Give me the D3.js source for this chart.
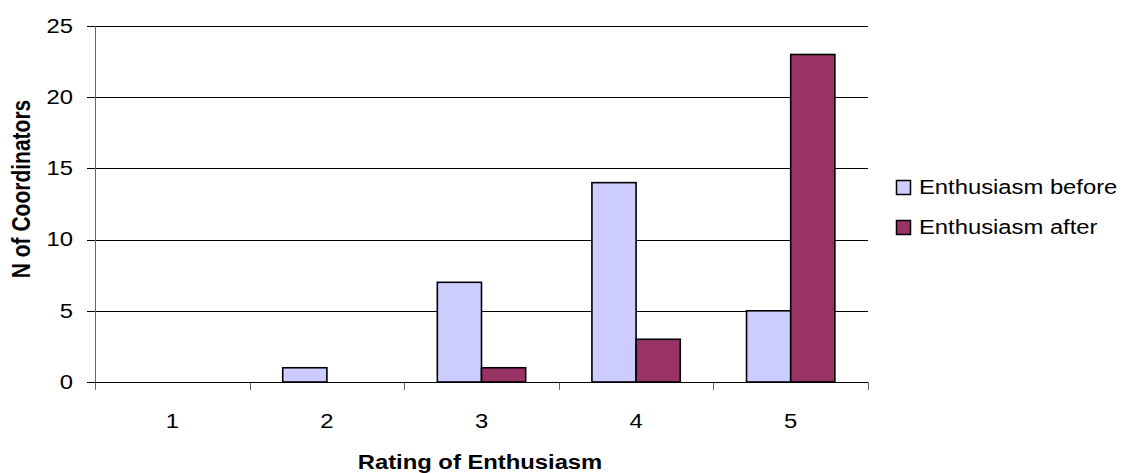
<!DOCTYPE html>
<html>
<head>
<meta charset="utf-8">
<script src="https://cdn.jsdelivr.net/npm/d3@7"></script>
<style>
  html, body { margin: 0; padding: 0; background: #fff; }
  svg { display: block; }
  text { font-family: "Liberation Sans", Arial, sans-serif; fill: #000; }
</style>
</head>
<body>
<svg id="chart" width="1125" height="473"></svg>
<script>
// Ratings on the x axis
const ratings = ["1", "2", "3", "4", "5"];
// Series names
const seriesNames = ["Enthusiasm before", "Enthusiasm after"];
// Number of coordinators per rating
const before = [0, 1, 7, 14, 5];
const after = [0, 0, 1, 3, 23];
// Y axis ticks
const yTicks = [0, 5, 10, 15, 20, 25];

const colors = ["#CCCCFF", "#993366"];
const seriesValues = [before, after];
const stretch = 1.19; // wide text look

const svg = d3.select("#chart");
const margin = { left: 95, right: 1125 - 868, top: 26, bottom: 473 - 382 };
const W = 1125, H = 473;

const x0 = d3.scaleBand().domain(ratings).range([margin.left, W - margin.right]).padding(0);
const x1 = d3.scaleBand().domain(seriesNames).range([0, x0.bandwidth()])
  .paddingInner(0).paddingOuter(0.75);
const y = d3.scaleLinear().domain([0, 25]).range([H - margin.bottom, margin.top]);

// Horizontal gridlines with short outward ticks
const grid = svg.append("g");
grid.selectAll("line").data(yTicks).join("line")
  .attr("x1", margin.left - 8).attr("x2", W - margin.right)
  .attr("y1", d => Math.round(y(d)) + 0.5).attr("y2", d => Math.round(y(d)) + 0.5)
  .attr("stroke", "#000").attr("stroke-width", 1);

// Y tick labels
svg.append("g").selectAll("text").data(yTicks).join("text")
  .attr("transform", d => `translate(73,${y(d)}) scale(${stretch},1)`)
  .attr("text-anchor", "end").attr("dominant-baseline", "central")
  .attr("font-size", 20).text(d => d);

// Y axis line
svg.append("line")
  .attr("x1", margin.left + 0.5).attr("x2", margin.left + 0.5)
  .attr("y1", y(25)).attr("y2", y(0))
  .attr("stroke", "#666").attr("stroke-width", 1);

// X axis category ticks
const xTickPos = ratings.map(r => x0(r)).concat([x0(ratings[ratings.length - 1]) + x0.bandwidth()]);
svg.append("g").selectAll("line").data(xTickPos).join("line")
  .attr("x1", d => Math.round(d) + 0.5).attr("x2", d => Math.round(d) + 0.5)
  .attr("y1", y(0)).attr("y2", y(0) + 8)
  .attr("stroke", "#666").attr("stroke-width", 1);

// X tick labels
svg.append("g").selectAll("text").data(ratings).join("text")
  .attr("transform", d => `translate(${x0(d) + x0.bandwidth() / 2},428) scale(${stretch},1)`)
  .attr("text-anchor", "middle").attr("font-size", 20).text(d => d);

// Bars
const groups = svg.append("g").selectAll("g").data(ratings).join("g")
  .attr("transform", d => `translate(${x0(d)},0)`);
groups.selectAll("rect")
  .data((d, i) => seriesNames.map((s, k) => ({ s, k, v: seriesValues[k][i] })))
  .join("rect")
  .filter(d => d.v > 0)
  .attr("x", d => x1(d.s))
  .attr("width", x1.bandwidth())
  .attr("y", d => y(d.v))
  .attr("height", d => y(0) - y(d.v))
  .attr("fill", d => colors[d.k])
  .attr("stroke", "#000").attr("stroke-width", 1.6);

// X axis baseline drawn over bar bottoms
svg.append("line")
  .attr("x1", margin.left).attr("x2", W - margin.right)
  .attr("y1", Math.round(y(0)) + 0.5).attr("y2", Math.round(y(0)) + 0.5)
  .attr("stroke", "#000").attr("stroke-width", 1);

// Axis titles
svg.append("text")
  .attr("transform", `translate(480,469) scale(${stretch},1)`)
  .attr("text-anchor", "middle").attr("font-size", 20).attr("font-weight", "bold")
  .text("Rating of Enthusiasm");
svg.append("text")
  .attr("transform", `translate(21,189) scale(${stretch},1) rotate(-90)`)
  .attr("text-anchor", "middle").attr("dominant-baseline", "central")
  .attr("font-size", 21).attr("font-weight", "bold")
  .text("N of Coordinators");

// Legend
const legend = svg.append("g").selectAll("g").data(seriesNames).join("g")
  .attr("transform", (d, i) => `translate(896,${187.5 + i * 40})`);
legend.append("rect")
  .attr("x", 0.5).attr("y", -7).attr("width", 14).attr("height", 14)
  .attr("fill", (d, i) => colors[i]).attr("stroke", "#000").attr("stroke-width", 1.5);
legend.append("text")
  .attr("transform", `translate(23,0) scale(${stretch},1)`)
  .attr("dominant-baseline", "central").attr("font-size", 20)
  .text(d => d);
</script>
</body>
</html>
